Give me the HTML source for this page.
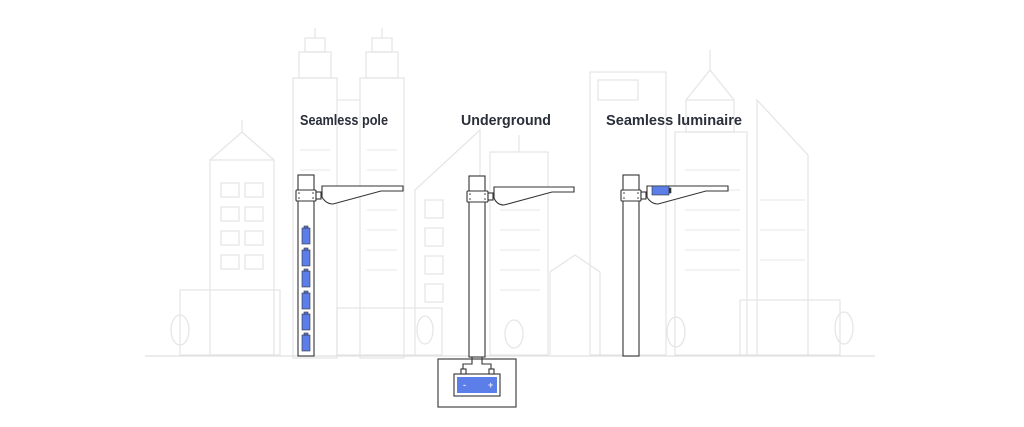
<!DOCTYPE html>
<html><head><style>
html,body{margin:0;padding:0;background:#fff;width:1024px;height:427px;overflow:hidden}
svg{display:block}
text{font-family:"Liberation Sans",sans-serif;font-weight:bold;font-size:15px;fill:#2a2f3a}
</style></head><body>
<svg width="1024" height="427" viewBox="0 0 1024 427">
<g fill="none" stroke="#e6e6e6" stroke-width="1.3">
<rect x="293" y="78" width="44" height="280"/><rect x="299" y="52" width="32" height="26"/><rect x="305" y="38" width="20" height="14"/><line x1="315" y1="28" x2="315" y2="38"/>
<rect x="360" y="78" width="44" height="280"/><rect x="366" y="52" width="32" height="26"/><rect x="372" y="38" width="20" height="14"/><line x1="382" y1="28" x2="382" y2="38"/>
<line x1="337" y1="100" x2="360" y2="100"/>
<rect x="210" y="160" width="64" height="195"/><polyline points="210,160 242,132 274,160"/><line x1="242" y1="120" x2="242" y2="132"/>
<rect x="221" y="183" width="18" height="14"/><rect x="245" y="183" width="18" height="14"/>
<rect x="221" y="207" width="18" height="14"/><rect x="245" y="207" width="18" height="14"/>
<rect x="221" y="231" width="18" height="14"/><rect x="245" y="231" width="18" height="14"/>
<rect x="221" y="255" width="18" height="14"/><rect x="245" y="255" width="18" height="14"/>
<rect x="180" y="290" width="100" height="65"/><ellipse cx="180" cy="330" rx="9" ry="15"/>
<rect x="337" y="308" width="105" height="47"/><ellipse cx="425" cy="330" rx="8" ry="14"/>
<polyline points="415,355 415,190 480,130 480,355"/>
<rect x="425" y="200" width="18" height="18"/><rect x="425" y="228" width="18" height="18"/><rect x="425" y="256" width="18" height="18"/><rect x="425" y="284" width="18" height="18"/>
<rect x="490" y="152" width="58" height="203"/><line x1="519" y1="135" x2="519" y2="152"/>
<ellipse cx="514" cy="334" rx="9" ry="14"/>
<rect x="590" y="72" width="76" height="283"/><rect x="598" y="80" width="40" height="20"/>
<rect x="675" y="132" width="72" height="223"/><polyline points="686,100 710,70 734,100"/><rect x="686" y="100" width="48" height="32"/><line x1="710" y1="50" x2="710" y2="70"/>
<polyline points="757,355 757,100 808,155 808,355"/>
<polyline points="550,355 550,272 575,255 600,272 600,355"/>
<rect x="740" y="300" width="100" height="55"/><ellipse cx="676" cy="332" rx="9" ry="15"/><ellipse cx="844" cy="328" rx="9" ry="16"/>
<g stroke="#ececec">
<line x1="300" y1="150" x2="330" y2="150"/><line x1="367" y1="150" x2="397" y2="150"/><line x1="300" y1="170" x2="330" y2="170"/><line x1="367" y1="170" x2="397" y2="170"/>
<line x1="367" y1="210" x2="397" y2="210"/><line x1="367" y1="230" x2="397" y2="230"/><line x1="367" y1="250" x2="397" y2="250"/><line x1="367" y1="270" x2="397" y2="270"/>
<line x1="500" y1="210" x2="540" y2="210"/><line x1="500" y1="230" x2="540" y2="230"/><line x1="500" y1="250" x2="540" y2="250"/><line x1="500" y1="270" x2="540" y2="270"/><line x1="500" y1="290" x2="540" y2="290"/>
<line x1="685" y1="170" x2="740" y2="170"/><line x1="685" y1="190" x2="740" y2="190"/><line x1="685" y1="210" x2="740" y2="210"/><line x1="685" y1="230" x2="740" y2="230"/><line x1="685" y1="250" x2="740" y2="250"/><line x1="685" y1="270" x2="740" y2="270"/>
<line x1="760" y1="200" x2="805" y2="200"/><line x1="760" y1="230" x2="805" y2="230"/><line x1="760" y1="260" x2="805" y2="260"/>
</g>
</g>
<line x1="145" y1="356" x2="875" y2="356" stroke="#e0e0e0" stroke-width="1.3"/>

<text x="300" y="125" textLength="88" lengthAdjust="spacingAndGlyphs">Seamless pole</text>
<text x="461" y="125" textLength="90" lengthAdjust="spacingAndGlyphs">Underground</text>
<text x="606" y="125" textLength="136" lengthAdjust="spacingAndGlyphs">Seamless luminaire</text>

<g fill="#fff" stroke="#333" stroke-width="1.1">
<rect x="298" y="175" width="16" height="181"/>
<rect x="296" y="190" width="20" height="11" rx="1"/>
<rect x="316" y="192" width="5" height="7"/>
<path d="M322,186 L403,186 L403,191 L381,191 L333,204 Q326,204 322,197 Z"/>
<rect x="469" y="176" width="16" height="181"/>
<rect x="467" y="191" width="21" height="11" rx="1"/>
<rect x="488" y="193" width="5" height="7"/>
<path d="M494,187 L574,187 L574,192 L552,192 L504,205 Q497,205 494,198 Z"/>
<rect x="438" y="359" width="78" height="48"/>
<rect x="454" y="374" width="46" height="22"/>
<path d="M472,357 L472,364 L463,364 L463,370 M482,357 L482,364 L491,364 L491,370" fill="none"/>
<rect x="461" y="369" width="5" height="5"/><rect x="489" y="369" width="5" height="5"/>
<rect x="623" y="175" width="16" height="181"/>
<rect x="621" y="190" width="20" height="11" rx="1"/>
<rect x="641" y="192" width="5" height="7"/>
<path d="M647,186 L728,186 L728,191 L706,191 L658,204 Q651,204 647,197 Z"/>
</g>
<g fill="#5b7ee8" stroke="#333" stroke-width="0.6">
<rect x="457" y="377" width="40" height="16" stroke="none"/>
<rect x="652" y="186" width="17" height="9"/><rect x="669" y="188" width="2" height="5" fill="#333"/>
<rect x="302" y="228" width="8" height="16"/><rect x="302" y="250" width="8" height="16"/><rect x="302" y="271" width="8" height="16"/><rect x="302" y="293" width="8" height="16"/><rect x="302" y="314" width="8" height="16"/><rect x="302" y="335" width="8" height="16"/>
<rect x="304" y="226" width="4" height="2"/><rect x="304" y="248" width="4" height="2"/><rect x="304" y="269" width="4" height="2"/><rect x="304" y="291" width="4" height="2"/><rect x="304" y="312" width="4" height="2"/><rect x="304" y="333" width="4" height="2"/>
</g>
<g fill="#333"><circle cx="299" cy="193" r="0.8"/><circle cx="313" cy="193" r="0.8"/><circle cx="299" cy="198" r="0.8"/><circle cx="313" cy="198" r="0.8"/>
<circle cx="470" cy="194" r="0.8"/><circle cx="485" cy="194" r="0.8"/><circle cx="470" cy="199" r="0.8"/><circle cx="485" cy="199" r="0.8"/>
<circle cx="624" cy="193" r="0.8"/><circle cx="638" cy="193" r="0.8"/><circle cx="624" cy="198" r="0.8"/><circle cx="638" cy="198" r="0.8"/></g>
<text x="463" y="388" style="font-size:9px;fill:#dfe6ff">-</text><text x="488" y="388" style="font-size:9px;fill:#dfe6ff">+</text>
</svg>
</body></html>
